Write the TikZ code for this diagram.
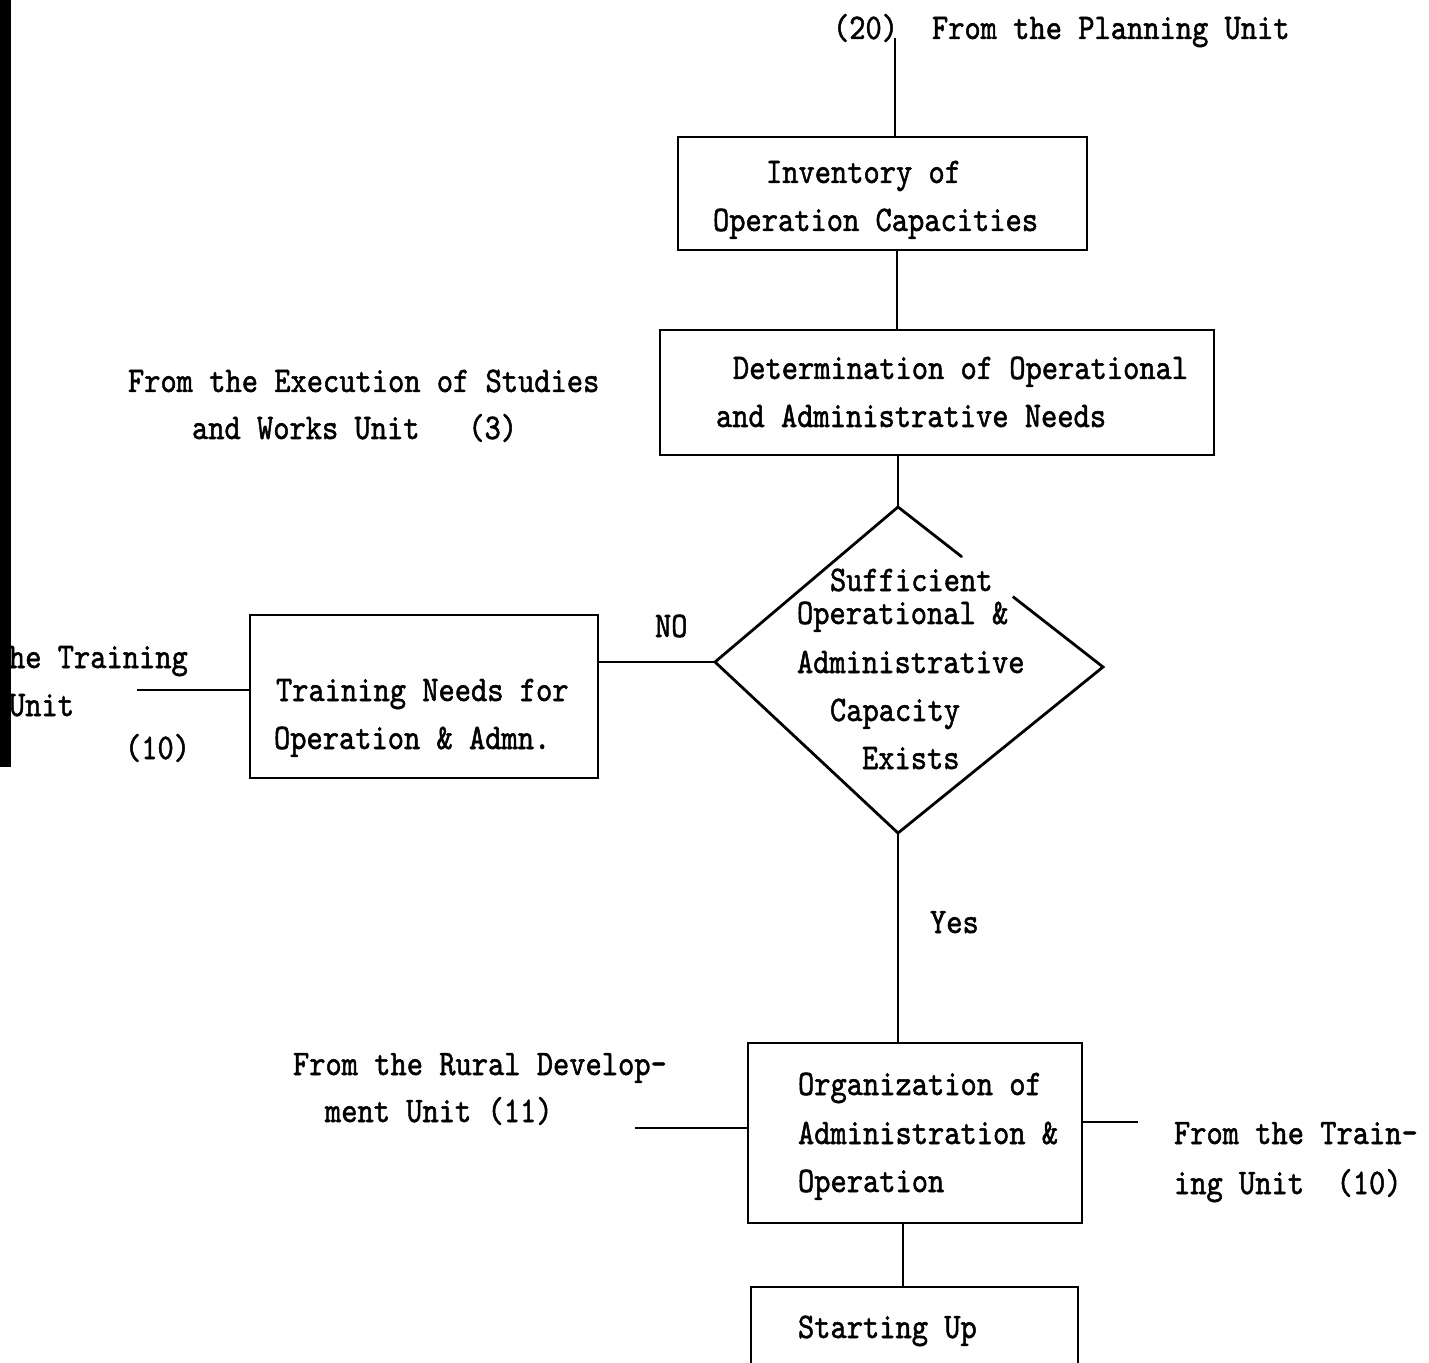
\documentclass[tikz,border=0pt]{standalone}
\usepackage{fontspec}
\newfontfamily\tw[FakeStretch=0.86,FakeBold=1.4]{lmmono10-regular.otf}
\usetikzlibrary{calc}
\begin{document}
\begin{tikzpicture}[x=0.5pt,y=-0.5pt,
  box/.style={draw,line width=1.4pt,rectangle,inner sep=0pt,outer sep=0pt},
  conn/.style={line width=1.1pt},
  vconn/.style={line width=0.8pt},
  lbl/.style={anchor=base west,inner sep=0pt,outer sep=0pt,font=\tw\fontsize{18pt}{20pt}\selectfont}]
\useasboundingbox (0,0) rectangle (1429,1363);

% axis coordinates
\coordinate (ax1) at (897,0);
\coordinate (ax2) at (898,0);
\coordinate (ax5) at (903,0);

% boxes
\node[box,minimum width=204.5pt,minimum height=56.5pt] (b1) at (882.5,193.5) {};
\node[box,minimum width=277pt,minimum height=62.5pt] (b2) at (937,392.5) {};
\node[box,minimum width=174pt,minimum height=81.5pt] (b3) at (424,696.5) {};
\node[box,minimum width=167pt,minimum height=90pt] (b4) at (915,1133) {};
\node[box,minimum width=163.5pt,minimum height=66.5pt] (b5) at (914.5,1353.5) {};

% diamond
\coordinate (dT) at (898,507);
\coordinate (dL) at (715,662);
\coordinate (dB) at (898,833);
\coordinate (dR) at (1103,667);
\draw[box,line cap=round] (dT) -- ($(dT)!0.31!(dR)$);
\draw[box,line join=miter] ($(dT)!0.56!(dR)$) -- (dR) -- (dB) -- (dL) -- (dT);

% free ends
\coordinate (plan) at (895,38);
\coordinate (tr1) at (137,690);
\coordinate (rd) at (635,1128);
\coordinate (tr2) at (1138,1122);

% connectors
\draw[vconn] (plan) -- (plan |- b1.north);
\draw[vconn] (b1.south -| ax1) -- (b2.north -| ax1);
\draw[vconn] (b2.south -| ax2) -- (dT);
\draw[conn] (dL) -- (dL -| b3.east);
\draw[conn] (tr1) -- (tr1 -| b3.west);
\draw[vconn] (dB) -- (dB |- b4.north);
\draw[conn] (rd) -- (rd -| b4.west);
\draw[conn] (b4.east |- tr2) -- (tr2);
\draw[vconn] (b4.south -| ax5) -- (b5.north -| ax5);

% texts
\node[lbl] (t20) at (833,39) {(20)};
\node[lbl] (tplan) at (932,39) {From the Planning Unit};
\node[lbl] (t1a) at (766,183) {Inventory of};
\node[lbl] (t1b) at (713,231) {Operation Capacities};
\node[lbl] (t2a) at (733,379) {Determination of Operational};
\node[lbl] (t2b) at (716,427) {and Administrative Needs};
\node[lbl] (tex1) at (128,392) {From the Execution of Studies};
\node[lbl] (tex2) at (192,439) {and Works Unit~~~(3)};
\node[lbl] (td1) at (830,591) {Sufficient};
\node[lbl] (td2) at (797,624) {Operational \&};
\node[lbl] (td3) at (797,673) {Administrative};
\node[lbl] (td4) at (830,721) {Capacity};
\node[lbl] (td5) at (862,769) {Exists};
\node[lbl] (tno) at (655,637) {NO};
\node[lbl] (t3a) at (276,701) {Training Needs for};
\node[lbl] (t3b) at (274,749) {Operation \& Admn.};
\node[lbl] (tl1) at (9,668) {he Training};
\node[lbl] (tl2) at (9,716) {Unit};
\node[lbl] (tl3) at (125,759) {(10)};
\node[lbl] (tyes) at (930,933) {Yes};
\node[lbl] (tr1a) at (293,1075) {From the Rural Develop-};
\node[lbl] (tr1b) at (325,1122) {ment Unit (11)};
\node[lbl] (t4a) at (798,1095) {Organization of};
\node[lbl] (t4b) at (798,1144) {Administration \&};
\node[lbl] (t4c) at (798,1192) {Operation};
\node[lbl] (tr2a) at (1174,1144) {From the Train-};
\node[lbl] (tr2b) at (1174,1194) {ing Unit~~(10)};
\node[lbl] (t5) at (798,1338) {Starting Up};

% scan edge bar
\fill (0,0) rectangle (11,767);
\end{tikzpicture}
\end{document}
